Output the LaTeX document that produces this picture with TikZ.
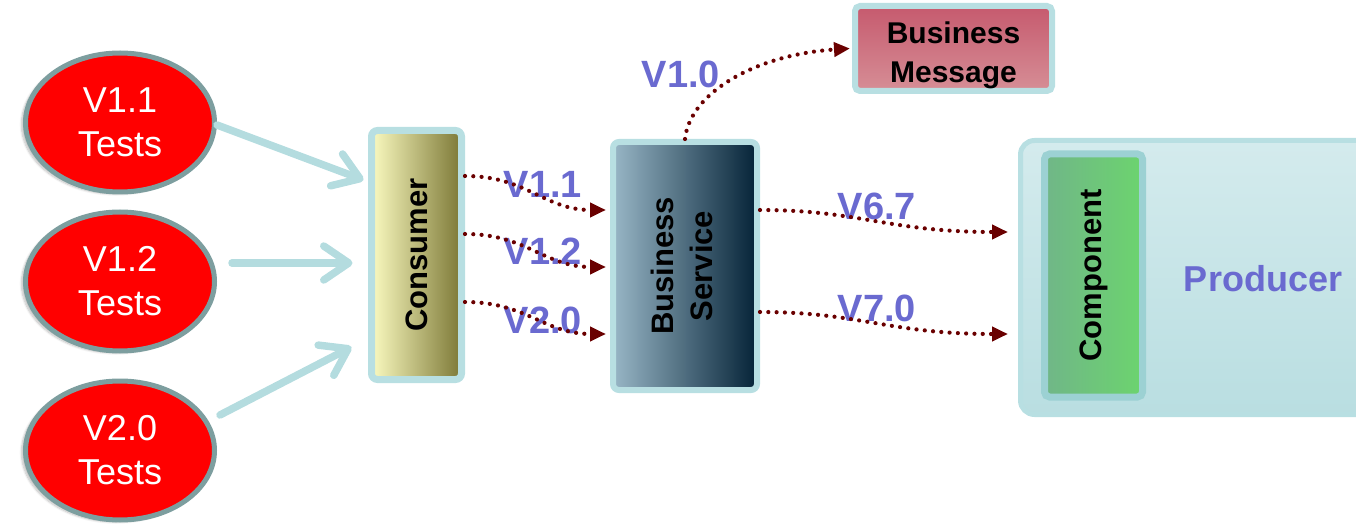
\documentclass[tikz,border=0pt]{standalone}
\usepackage{fontspec}
\usepackage{graphicx}
\setmainfont{Liberation Sans}
\usetikzlibrary{arrows.meta,shapes.geometric,shadows.blur}

\definecolor{rimblue}{RGB}{184,223,226}
\definecolor{pipeblue}{RGB}{180,220,223}
\definecolor{testred}{RGB}{255,0,0}
\definecolor{testrim}{RGB}{125,158,159}
\definecolor{flowred}{RGB}{106,0,0}
\definecolor{verblue}{RGB}{106,106,208}
\definecolor{consA}{RGB}{250,250,192}
\definecolor{consB}{RGB}{124,120,54}
\definecolor{servA}{RGB}{152,182,198}
\definecolor{servB}{RGB}{5,35,55}
\definecolor{msgA}{RGB}{198,90,110}
\definecolor{msgB}{RGB}{214,142,150}
\definecolor{compA}{RGB}{112,182,136}
\definecolor{compB}{RGB}{108,212,110}
\definecolor{prodA}{RGB}{212,235,237}
\definecolor{prodB}{RGB}{185,222,225}

\tikzset{
  testnode/.style={ellipse, inner sep=0pt, minimum width=189pt, minimum height=139pt,
    fill=testred, draw=testrim, line width=5pt, text=white, align=center,
    font=\fontsize{36}{44}\selectfont,
    blur shadow={shadow xshift=-4pt, shadow yshift=-2pt, shadow opacity=25, shadow blur steps=8}},
  boxnode/.style={rectangle, draw=rimblue, rounded corners=6pt, inner sep=0pt,
    font=\fontsize{31}{39}\selectfont\bfseries},
  verlabel/.style={text=verblue, font=\fontsize{38}{44}\selectfont\bfseries, inner sep=0pt},
  pipe/.style={draw=pipeblue, line width=7.5pt, line cap=round,
    -{Straight Barb[length=25pt,width=34pt,round]}},
  flow/.style={draw=flowred, line width=4.2pt, line cap=round,
    dash pattern=on 0pt off 8.3pt, -{Triangle[length=16pt,width=14pt]}}
}

\begin{document}
\begin{tikzpicture}[x=1pt,y=-1pt]
\useasboundingbox (0,0) rectangle (1356,526);

% test suites
\node[testnode] (t11) at (120,122.5) {V1.1\\Tests};
\node[testnode] (t12) at (120,281.5) {V1.2\\Tests};
\node[testnode] (t20) at (120,450.5) {V2.0\\Tests};

% producer frame with its component
\node[rectangle, draw=rimblue, line width=5pt, rounded corners=14pt,
      top color=prodA, bottom color=prodB, minimum width=380pt, minimum height=274pt,
      inner sep=0pt] (prod) at (1210.5,277.5) {};
\node[verlabel, font=\fontsize{36}{44}\selectfont\bfseries] (prodlabel) at (1263,279) {Producer};
\node[boxnode, draw=rimblue!85!teal, line width=7pt, rounded corners=5pt,
      left color=compA, right color=compB, minimum width=98pt, minimum height=243pt]
      (comp) at (1093.5,275.5) {\rotatebox{90}{Component}};

% consumer, service and message boxes
\node[boxnode, line width=7pt, left color=consA, right color=consB,
      minimum width=90pt, minimum height=249pt] (cons) at (416.5,255) {\rotatebox{90}{Consumer}};
\node[boxnode, line width=6pt, left color=servA, right color=servB,
      minimum width=144pt, minimum height=248pt] (serv) at (685,266)
      {\rotatebox{90}{\begin{tabular}{@{}c@{}}Business\\Service\end{tabular}}};
\node[boxnode, line width=6pt, rounded corners=5pt, top color=msgA, bottom color=msgB,
      minimum width=197pt, minimum height=85pt] (msg) at (953.5,48.5) {};
\node[align=center, inner sep=0pt, font=\fontsize{30}{39}\selectfont\bfseries]
      (msgtext) at (953.5,55) {Business\\Message};

% version labels
\node[verlabel] (l10) at (681,74) {V1.0};
\node[verlabel] (l11) at (543,184) {V1.1};
\node[verlabel] (l12) at (543,251) {V1.2};
\node[verlabel] (l20) at (543,320) {V2.0};
\node[verlabel] (l67) at (877,206) {V6.7};
\node[verlabel] (l70) at (877,308) {V7.0};

% tests driving the consumer
\draw[pipe] ([yshift=-2.5pt]t11.east) -- ([xshift=-4.5pt,yshift=75pt]cons.west);
\draw[pipe] ([xshift=15pt,yshift=18.5pt]t12.east) -- ([xshift=-15.5pt,yshift=-8pt]cons.west);
\draw[pipe] ([xshift=3pt,yshift=35.5pt]t20.east) -- ([xshift=-16.5pt,yshift=-92pt]cons.west);

% consumer calls to the service
\draw[flow] ([yshift=79pt]cons.east) .. controls +(62,0) and +(-62,0) .. ([xshift=-4pt,yshift=56pt]serv.west);
\draw[flow] ([yshift=21pt]cons.east) .. controls +(62,0) and +(-62,0) .. ([xshift=-4pt,yshift=-1pt]serv.west);
\draw[flow] ([yshift=-47pt]cons.east) .. controls +(62,0) and +(-62,0) .. ([xshift=-4pt,yshift=-68pt]serv.west);

% service calls to the producer and the message
\draw[flow] ([yshift=56pt]serv.east) .. controls +(100,0) and +(-120,0) .. ([xshift=-10pt,yshift=45.5pt]prod.west);
\draw[flow] ([yshift=-46pt]serv.east) .. controls +(100,0) and +(-120,0) .. ([xshift=-10pt,yshift=-56.5pt]prod.west);
\draw[flow] (serv.north) .. controls +(5,-47) and +(-93,6) .. ([xshift=-2pt]msg.west);
\end{tikzpicture}
\end{document}
